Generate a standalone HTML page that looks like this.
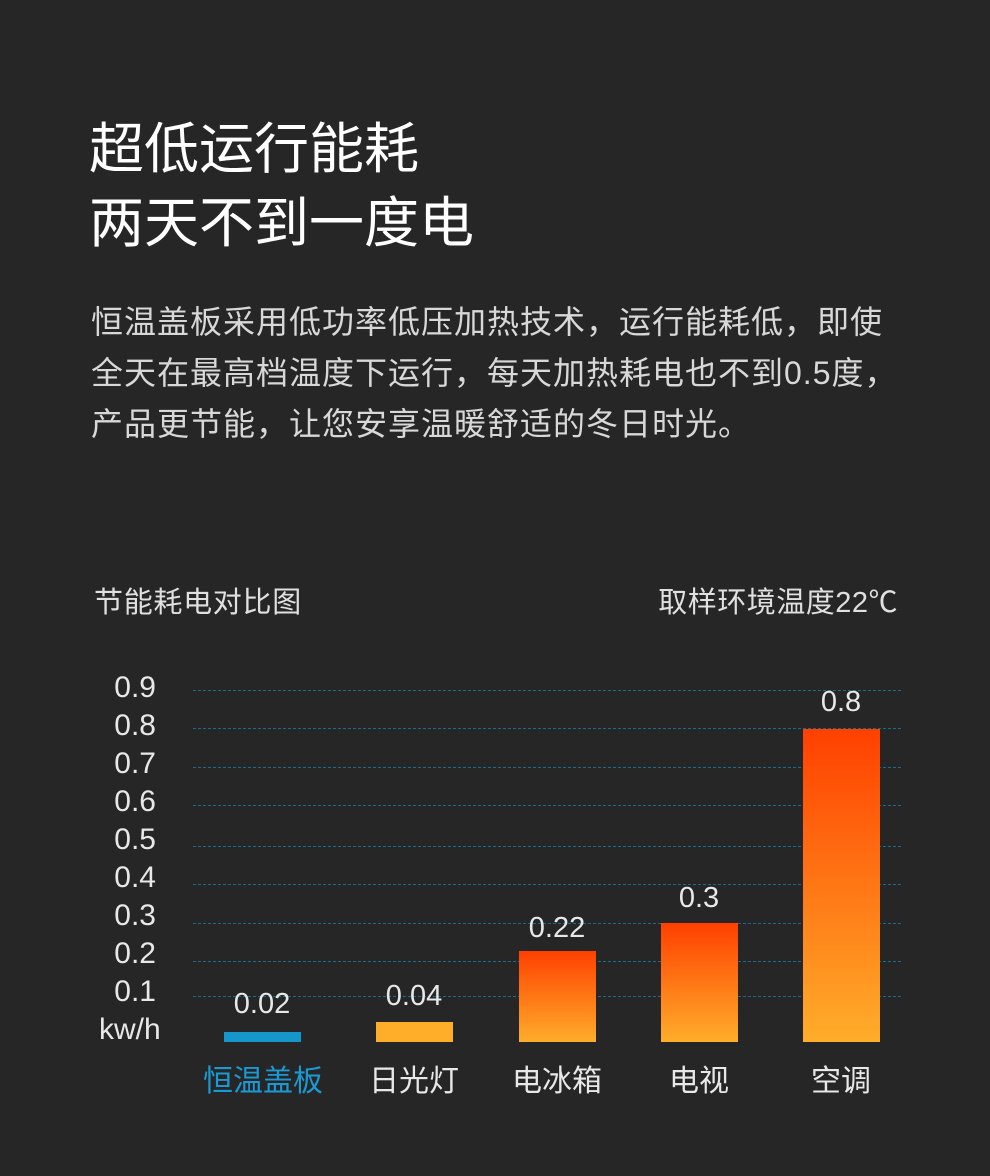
<!DOCTYPE html>
<html><head><meta charset="utf-8"><style>
body{margin:0;width:990px;height:1176px;background:#262626;position:relative;overflow:hidden;font-family:"Liberation Sans","Noto Sans CJK SC",sans-serif;color:#f0f0f0}
.a{position:absolute;white-space:nowrap}
.g{position:absolute;left:193px;width:708px;border-top:1px dashed #1b6c8c}
.y{position:absolute;left:100px;width:56px;text-align:right;font-size:30px;line-height:28px;color:#e8e8e8}
.b{position:absolute;width:77px;bottom:134px;background:linear-gradient(#ff4000,#ffad2a)}
.v{position:absolute;width:120px;text-align:center;font-size:29px;color:#e8e8e8}
.l{position:absolute;width:140px;text-align:center;font-size:30px;top:1056px;color:#e8e8e8}
</style></head><body>
<div class="a" style="left:89px;top:112px;font-size:55px;line-height:74px;color:#fff">超低运行能耗<br>两天不到一度电</div>
<div class="a" style="left:91px;top:297px;font-size:32px;letter-spacing:1px;line-height:51px;color:#d8d8d8">恒温盖板采用低功率低压加热技术，运行能耗低，即使<br>全天在最高档温度下运行，每天加热耗电也不到0.5度，<br>产品更节能，让您安享温暖舒适的冬日时光。</div>
<div class="a" style="left:94px;top:579px;font-size:29px;letter-spacing:0.7px;color:#e0e0e0">节能耗电对比图</div>
<div class="a" style="right:92px;top:579px;font-size:29px;letter-spacing:0.5px;color:#e0e0e0">取样环境温度22℃</div>
<div class="g" style="top:690px"></div><div class="g" style="top:728px"></div><div class="g" style="top:767px"></div><div class="g" style="top:805px"></div><div class="g" style="top:846px"></div><div class="g" style="top:884px"></div><div class="g" style="top:923px"></div><div class="g" style="top:961px"></div><div class="g" style="top:996px"></div>
<div class="y" style="top:674px">0.9</div><div class="y" style="top:712px">0.8</div><div class="y" style="top:750px">0.7</div><div class="y" style="top:788px">0.6</div><div class="y" style="top:826px">0.5</div><div class="y" style="top:864px">0.4</div><div class="y" style="top:902px">0.3</div><div class="y" style="top:940px">0.2</div><div class="y" style="top:978px">0.1</div>
<div class="a" style="left:99px;top:1016px;font-size:30px;line-height:28px;color:#e8e8e8">kw/h</div>
<div class="b" style="left:224px;height:10px;background:#1597cc"></div>
<div class="b" style="left:376px;height:20px;background:#ffae2a"></div>
<div class="b" style="left:519px;height:91px"></div>
<div class="b" style="left:661px;height:119px"></div>
<div class="b" style="left:803px;height:313px"></div>
<div class="v" style="left:202px;top:988px">0.02</div>
<div class="v" style="left:354px;top:980px">0.04</div>
<div class="v" style="left:497px;top:912px">0.22</div>
<div class="v" style="left:639px;top:882px">0.3</div>
<div class="v" style="left:781px;top:686px">0.8</div>
<div class="l" style="left:193px;color:#1a9ad4">恒温盖板</div>
<div class="l" style="left:344px">日光灯</div>
<div class="l" style="left:487px">电冰箱</div>
<div class="l" style="left:629px">电视</div>
<div class="l" style="left:771px">空调</div>
</body></html>
